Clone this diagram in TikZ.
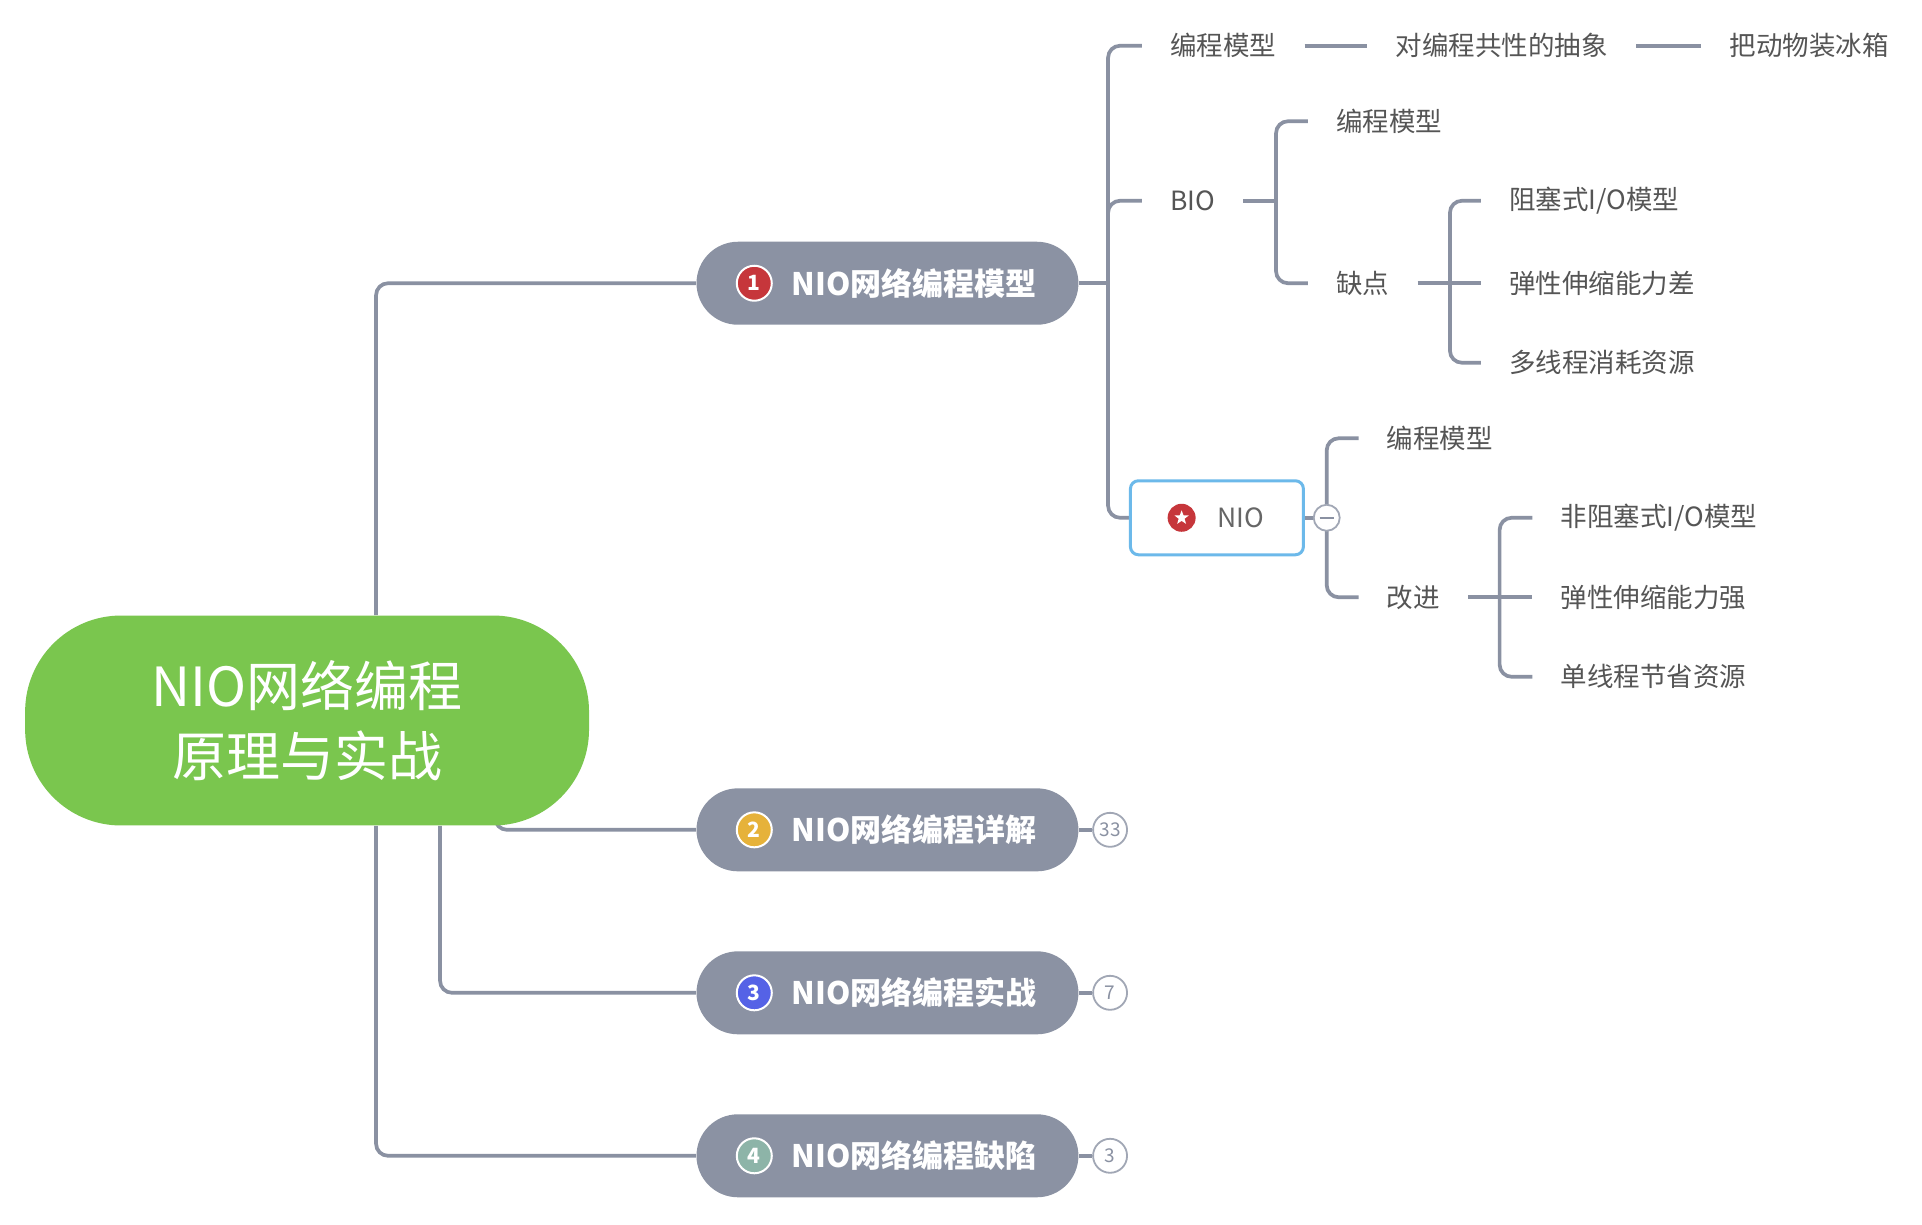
\documentclass[tikz,border=0pt]{standalone}
\usepackage{fontspec}
\setmainfont{Noto Sans CJK SC}
\usetikzlibrary{backgrounds,shapes.geometric}
\definecolor{linkgray}{HTML}{8A91A2}
\definecolor{pillgray}{HTML}{8B92A3}
\definecolor{rootgreen}{HTML}{7AC64E}
\definecolor{leafgray}{HTML}{555555}
\definecolor{nioblue}{HTML}{6CB9EA}
\definecolor{redicon}{HTML}{C6363B}
\definecolor{ambericon}{HTML}{E6B23A}
\definecolor{blueicon}{HTML}{5562E6}
\definecolor{tealicon}{HTML}{8DB4A8}
\tikzset{
  link/.style={draw=linkgray,line width=1.85pt,rounded corners=6pt},
  leaf/.style={anchor=west,text=leafgray,inner xsep=14pt,inner ysep=2pt,
    font=\fontsize{13.25}{16}\selectfont},
  pill/.style={fill=pillgray,text=white,rounded corners=20.75pt,
    minimum width=191pt,minimum height=41.5pt,
    font=\fontsize{15.5}{18}\selectfont\bfseries},
  numicon/.style={circle,fill=#1,draw=white,line width=1pt,minimum size=17.5pt,
    inner sep=0pt,text=white,font=\fontsize{10.5}{12}\selectfont\bfseries},
  badge/.style={circle,fill=white,draw=linkgray!80,line width=0.9pt,
    minimum size=17pt,inner sep=0pt,text=linkgray,font=\fontsize{9.5}{11}\selectfont},
}
\begin{document}
\begin{tikzpicture}[x=0.497pt,y=-0.497pt]
    \useasboundingbox (0,0) rectangle (1934,1232);
    % root
    \node[fill=rootgreen,text=white,rounded corners=48pt,minimum width=282pt,
      minimum height=105pt,align=center,font=\fontsize{27}{35}\selectfont]
      (root) at (309,725) {NIO网络编程\\原理与实战};
    % main branches
    \node[pill] (p1) at (893,285) {\hspace*{26.5pt}NIO网络编程模型};
    \node[pill] (p2) at (893,835) {\hspace*{26.5pt}NIO网络编程详解};
    \node[pill] (p3) at (893,999) {\hspace*{26.5pt}NIO网络编程实战};
    \node[pill] (p4) at (893,1163) {\hspace*{26.5pt}NIO网络编程缺陷};
    \node[numicon=redicon] (i1) at (759,285) {1};
    \node[numicon=ambericon] (i2) at (759,835) {2};
    \node[numicon=blueicon] (i3) at (759,999) {3};
    \node[numicon=tealicon] (i4) at (759,1163) {4};
    \node[badge] (b2) at (1117,835) {33};
    \node[badge] (b3) at (1117,999) {7};
    \node[badge] (b4) at (1117,1163) {3};
    % programming model
    \node[leaf] (mA) at (1149,46) {编程模型};
    \node[leaf] (mB) at (1376,46) {对编程共性的抽象};
    \node[leaf] (mC) at (1712,46) {把动物装冰箱};
    % BIO
    \node[leaf] (bio) at (1149,202) {BIO};
    \node[leaf] (bA) at (1316,122) {编程模型};
    \node[leaf] (bB) at (1316,285) {缺点};
    \node[leaf] (bB1) at (1490,202) {阻塞式I/O模型};
    \node[leaf] (bB2) at (1490,285) {弹性伸缩能力差};
    \node[leaf] (bB3) at (1490,365) {多线程消耗资源};
    % NIO
    \node[draw=nioblue,line width=1.5pt,fill=white,rounded corners=4pt,
      minimum width=86.5pt,minimum height=37pt,text=leafgray!90,
      font=\fontsize{13.25}{16}\selectfont] (nio) at (1224.5,521) {\hspace*{24pt}NIO};
    \node[circle,fill=redicon,minimum size=14pt,inner sep=0pt] (nioicon) at (1189,521) {};
    \node[star,star points=5,star point ratio=2.4,fill=white,inner sep=0pt,
      minimum size=7.5pt] (niostar) at (nioicon) {};
    \node[badge,minimum size=13pt] (nioc) at (1335,521) {};
    \draw[linkgray,line width=0.8pt] ([xshift=-3.5pt]nioc.center) -- ([xshift=3.5pt]nioc.center);
    \node[leaf] (nA) at (1367,441) {编程模型};
    \node[leaf] (nB) at (1367,601) {改进};
    \node[leaf] (nB1) at (1542,521) {非阻塞式I/O模型};
    \node[leaf] (nB2) at (1542,601) {弹性伸缩能力强};
    \node[leaf] (nB3) at (1542,681) {单线程节省资源};
    \coordinate (s1) at (1115,285);
    \coordinate (s2) at (1284,202);
    \coordinate (s3) at (1459,285);
    \coordinate (s4) at (1509,601);
    \begin{scope}[on background layer]
        \fill[white] (0,0) rectangle (1934,1232);
        \draw[link] ([xshift=34.5pt]root.north) |- (p1.west);
        \draw[link] ([xshift=94pt,yshift=5pt]root.south) |- (p2.west);
        \draw[link] ([xshift=66.5pt]root.south) |- (p3.west);
        \draw[link] ([xshift=34.5pt]root.south) |- (p4.west);
        \draw[link] (p2.east) -- (b2);
        \draw[link] (p3.east) -- (b3);
        \draw[link] (p4.east) -- (b4);
        \draw[link] (p1.east) -- (s1);
        \draw[link] (s1) |- (mA.west);
        \draw[link] (s1) |- (bio.west);
        \draw[link] (s1) |- (nio.west);
        \draw[link] (mA.east) -- (mB.west);
        \draw[link] (mB.east) -- (mC.west);
        \draw[link] (bio.east) -- (s2);
        \draw[link] (s2) |- (bA.west);
        \draw[link] (s2) |- (bB.west);
        \draw[link] (bB.east) -- (s3);
        \draw[link] (s3) |- (bB1.west);
        \draw[link] (s3) -- (bB2.west);
        \draw[link] (s3) |- (bB3.west);
        \draw[link] (nio.east) -- (nioc);
        \draw[link] (nioc.center) |- (nA.west);
        \draw[link] (nioc.center) |- (nB.west);
        \draw[link] (nB.east) -- (s4);
        \draw[link] (s4) |- (nB1.west);
        \draw[link] (s4) -- (nB2.west);
        \draw[link] (s4) |- (nB3.west);
    \end{scope}
\end{tikzpicture}
\end{document}
